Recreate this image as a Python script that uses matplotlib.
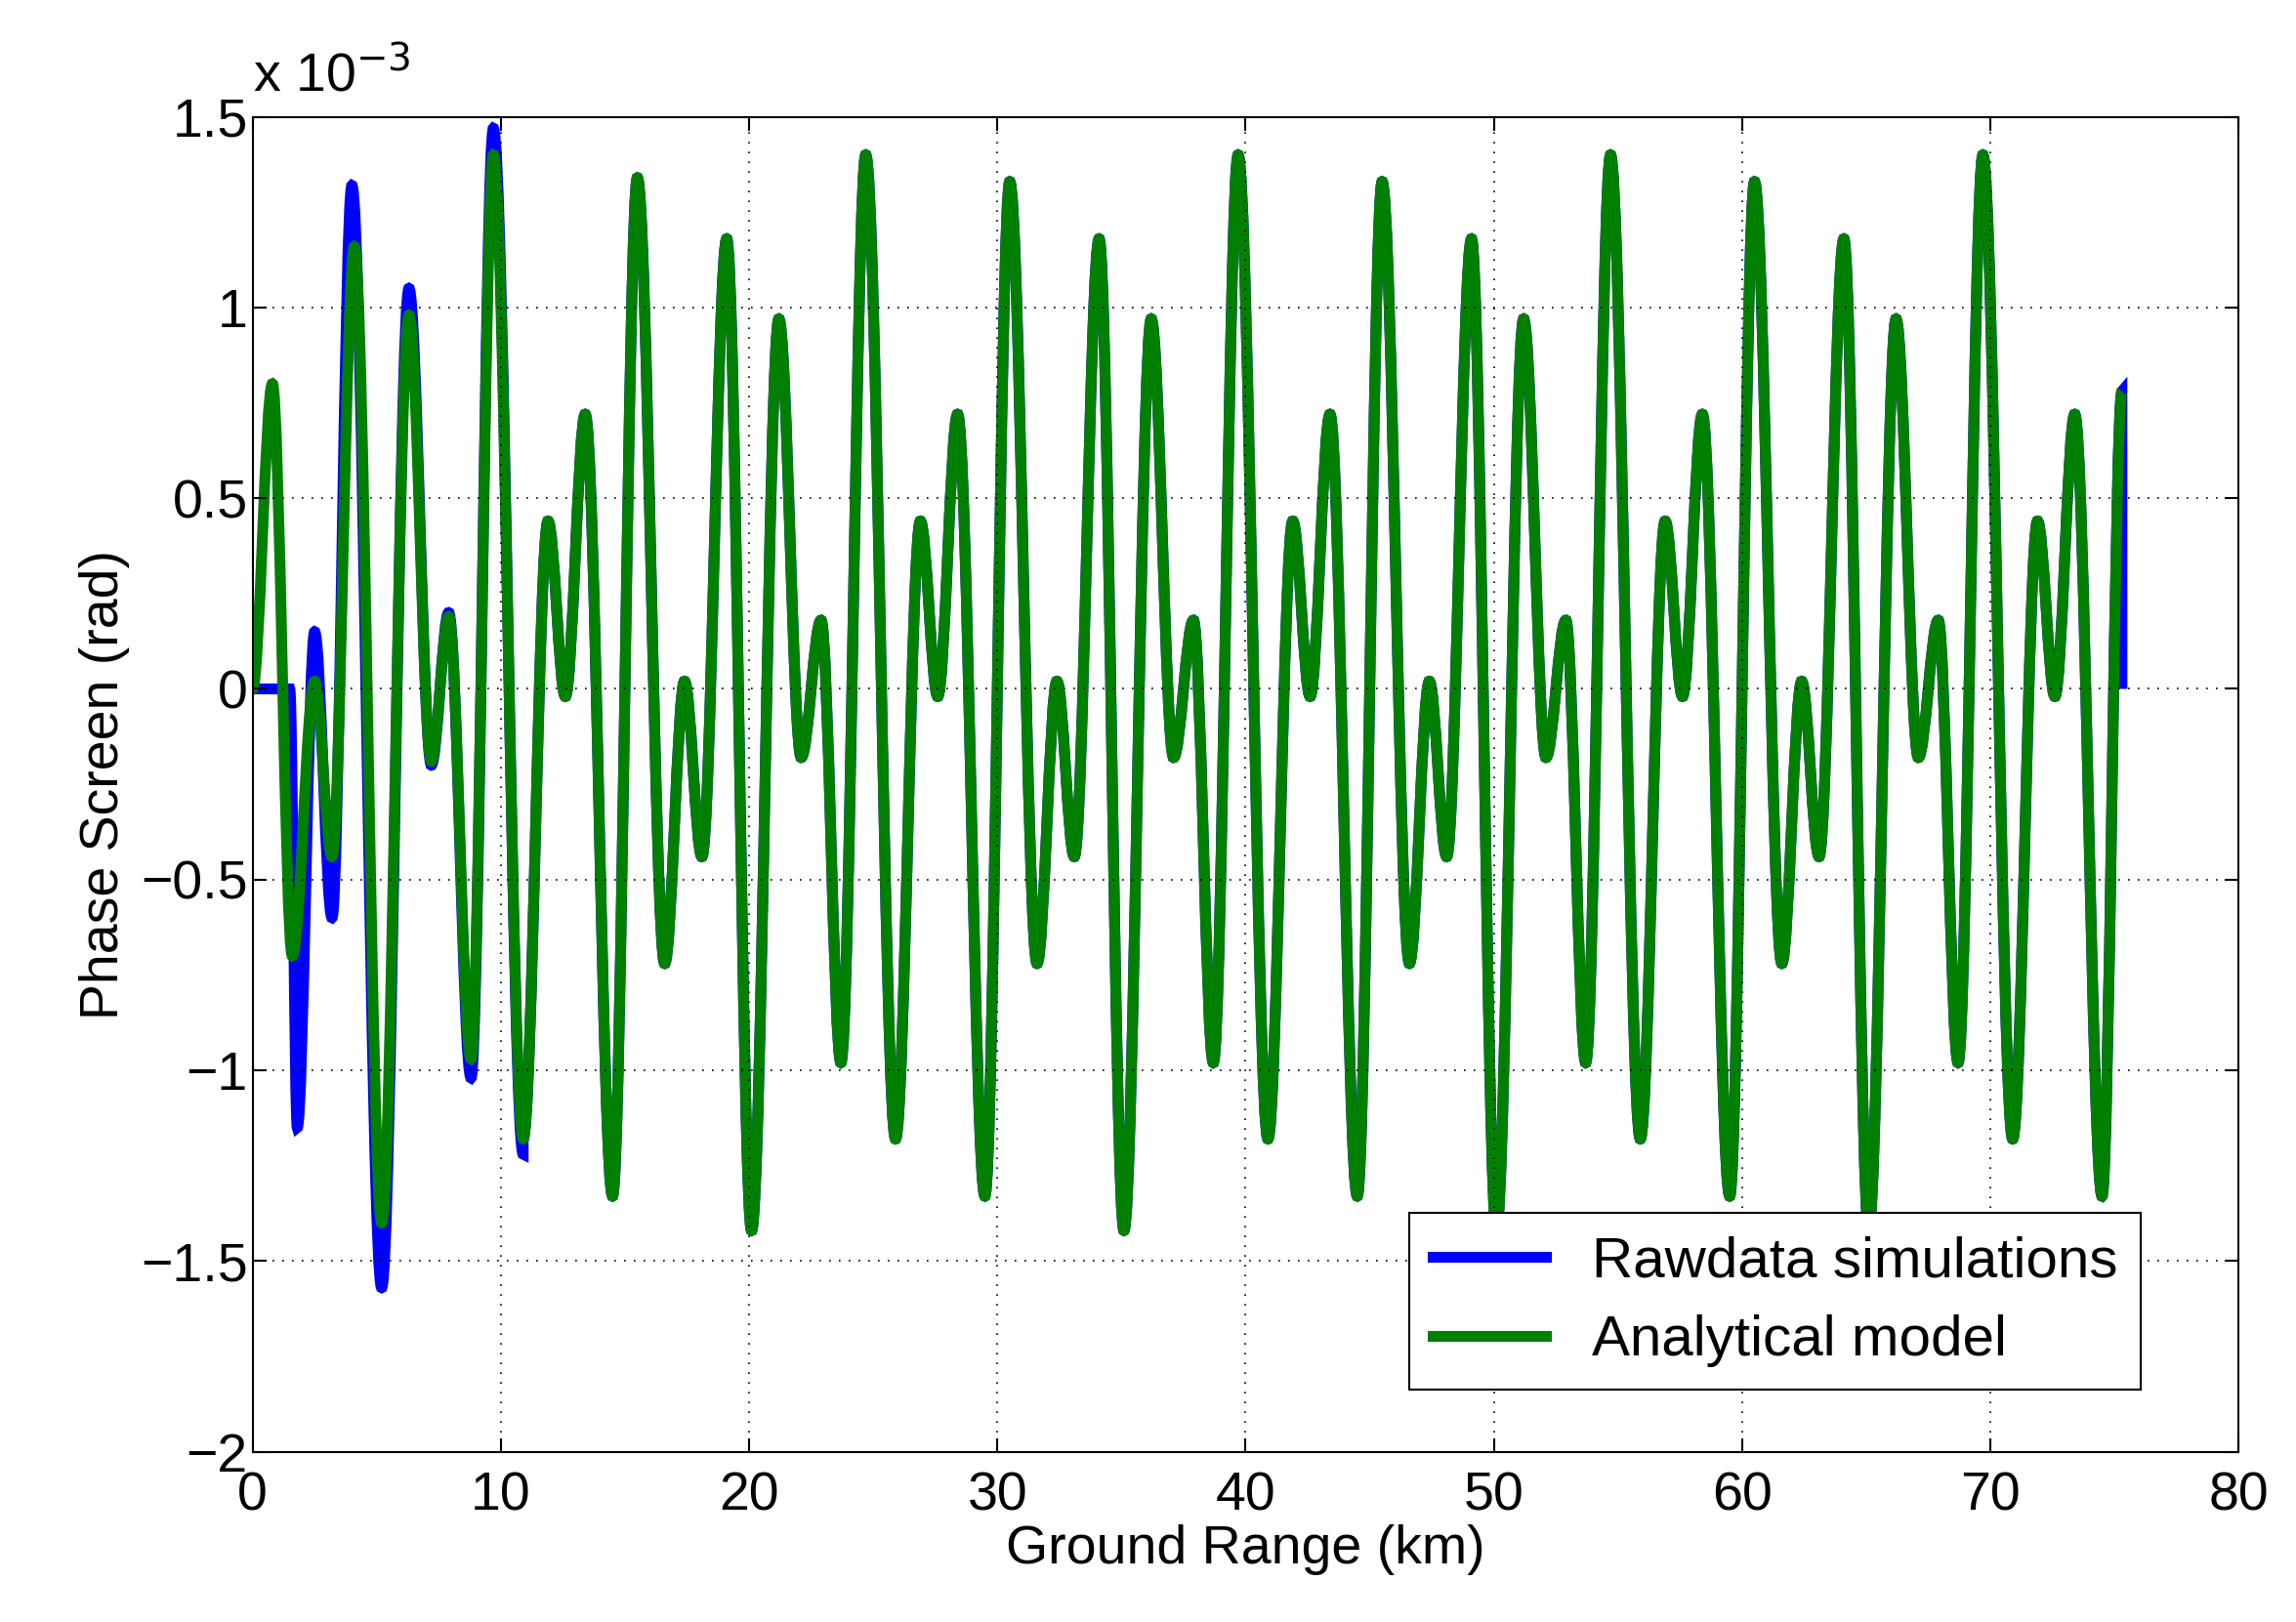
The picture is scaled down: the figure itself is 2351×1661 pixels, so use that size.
import matplotlib
matplotlib.use("Agg")
import matplotlib.pyplot as plt
from matplotlib.path import Path
from matplotlib.patches import PathPatch
from matplotlib.lines import Line2D

plt.rcParams["font.family"] = ["Liberation Sans", "DejaVu Sans"]

# extrema (ground range km, phase x1e-3 rad)
green_x = [0.0, 0.8, 1.6, 2.5, 3.2, 4.1, 5.2, 6.3, 7.2, 7.9, 8.8,
           9.7, 10.9, 11.9, 12.6, 13.4, 14.5, 15.5, 16.6, 17.4, 18.1, 19.1, 20.1, 21.2, 22.1, 22.9, 23.7,
           24.7, 25.9, 26.9, 27.6, 28.4, 29.5, 30.5, 31.6, 32.4, 33.1, 34.1, 35.1, 36.2, 37.1, 37.9, 38.7,
           39.7, 40.9, 41.9, 42.6, 43.4, 44.5, 45.5, 46.6, 47.4, 48.1, 49.1, 50.1, 51.2, 52.1, 52.9, 53.7,
           54.7, 55.9, 56.9, 57.6, 58.4, 59.5, 60.5, 61.6, 62.4, 63.1, 64.1, 65.1, 66.2, 67.1, 67.9, 68.7,
           69.7, 70.9, 71.9, 72.6, 73.4, 74.5, 75.3]
green_y = [0.0, 0.8, -0.7, 0.02, -0.44, 1.16, -1.4, 0.98, -0.19, 0.19, -0.97,
           1.4, -1.18, 0.44, -0.02, 0.72, -1.33, 1.34, -0.72, 0.02, -0.44, 1.18, -1.42, 0.97, -0.18, 0.18, -0.98,
           1.4, -1.18, 0.44, -0.02, 0.72, -1.33, 1.33, -0.72, 0.02, -0.44, 1.18, -1.42, 0.97, -0.18, 0.18, -0.98,
           1.4, -1.18, 0.44, -0.02, 0.72, -1.33, 1.33, -0.72, 0.02, -0.44, 1.18, -1.42, 0.97, -0.18, 0.18, -0.98,
           1.4, -1.18, 0.44, -0.02, 0.72, -1.33, 1.33, -0.72, 0.02, -0.44, 1.18, -1.42, 0.97, -0.18, 0.18, -0.98,
           1.4, -1.18, 0.44, -0.02, 0.72, -1.33, 0.78]

blue_x = [0.0, 1.5, 1.8, 2.5, 3.2, 4.0, 5.2, 6.3, 7.2, 7.9, 8.8, 9.7, 10.9] + green_x[12:] + [75.3]
blue_y = [0.0, 0.0, -1.15, 0.15, -0.6, 1.32, -1.57, 1.05, -0.2, 0.2, -1.02, 1.47, -1.22] + green_y[12:] + [0.0]


def smooth_path(xs, ys):
    # cubic segments with flat tangents at each extremum; straight where x does not advance
    verts = [(xs[0], ys[0])]
    codes = [Path.MOVETO]
    for (x0, y0), (x1, y1) in zip(zip(xs[:-1], ys[:-1]), zip(xs[1:], ys[1:])):
        dx = x1 - x0
        if dx <= 0 or y0 == y1:
            verts.append((x1, y1))
            codes.append(Path.LINETO)
            continue
        verts += [(x0 + 0.36 * dx, y0), (x1 - 0.36 * dx, y1), (x1, y1)]
        codes += [Path.CURVE4] * 3
    return Path(verts, codes)


fig = plt.figure(figsize=(23.51, 16.61), dpi=100)
ax = fig.add_axes([0.110, 0.105, 0.865, 0.823])
BLUE, GREEN = "#0000ff", "#007f00"
ax.add_patch(PathPatch(smooth_path(blue_x, blue_y), fill=False, edgecolor=BLUE, lw=8, capstyle="butt"))
ax.add_patch(PathPatch(smooth_path(green_x, green_y), fill=False, edgecolor=GREEN, lw=8, capstyle="butt"))

ax.set_xlim(0, 80)
ax.set_ylim(-2, 1.5)
ax.set_xticks(range(0, 81, 10))
ax.set_yticks([-2, -1.5, -1, -0.5, 0, 0.5, 1, 1.5])
ax.set_yticklabels(["\u22122", "\u22121.5", "\u22121", "\u22120.5", "0", "0.5", "1", "1.5"])
ax.tick_params(labelsize=40, direction="in", length=10, width=1.5, top=True, right=True)
ax.tick_params(axis="x", pad=14)
ax.grid(True, color="black", linestyle=(0, (1, 5)), linewidth=1.2)
for s in ax.spines.values():
    s.set_linewidth(1.5)
ax.set_xlabel("Ground Range (km)", fontsize=40, labelpad=2)
ax.set_ylabel("Phase Screen (rad)", fontsize=40, labelpad=8)
ax.text(0.0, 1.01, r"x 10$^{-3}$", transform=ax.transAxes, fontsize=40, ha="left", va="bottom")

handles = [Line2D([], [], color=BLUE, lw=8), Line2D([], [], color=GREEN, lw=8)]
leg = ax.legend(handles, ["Rawdata simulations", "Analytical model"], loc="lower right",
                bbox_to_anchor=(0.965, 0.025), fontsize=42, fancybox=False, edgecolor="black",
                framealpha=1, handlelength=2.0, borderpad=0.4, labelspacing=0.45)
leg.get_frame().set_linewidth(1.5)

fig.savefig("out.png", dpi=100)
